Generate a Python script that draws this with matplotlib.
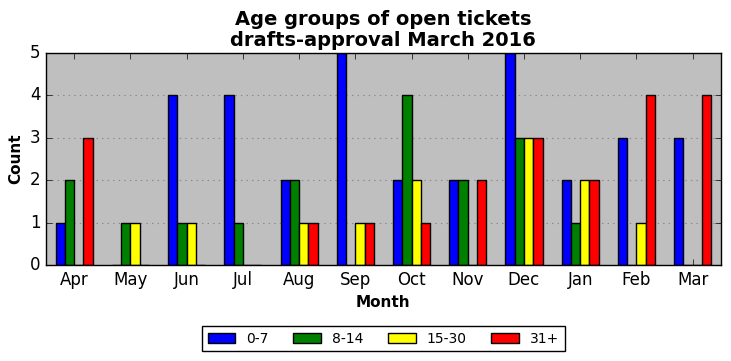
import numpy as np
import matplotlib
matplotlib.use("Agg")
import matplotlib.pyplot as plt

# ============================================================
# DATA
# ============================================================

months = ["Apr", "May", "Jun", "Jul", "Aug", "Sep",
          "Oct", "Nov", "Dec", "Jan", "Feb", "Mar"]

age_0_7 = [1, 0, 4, 4, 2, 5, 2, 2, 5, 2, 3, 3]
age_8_14 = [2, 1, 1, 1, 2, 0, 4, 2, 3, 1, 0, 0]
age_15_30 = [0, 1, 1, 0, 1, 1, 2, 0, 3, 2, 1, 0]
age_31_plus = [3, 0, 0, 0, 1, 1, 1, 2, 3, 2, 4, 4]

series_labels = ["0-7", "8-14", "15-30", "31+"]
series_colors = ["blue", "green", "yellow", "red"]

# ============================================================
# PLOT
# ============================================================

plt.style.use("classic")

fig = plt.figure(figsize=(7.31, 3.61), dpi=100, facecolor="white")
ax = fig.add_axes([0.063, 0.266, 0.923, 0.587])
ax.set_facecolor("#bfbfbf")

x = np.arange(len(months))
width = 0.165

all_series = [age_0_7, age_8_14, age_15_30, age_31_plus]

for i, values in enumerate(all_series):
    ax.bar(
        x + (i - 1.5) * width,
        values,
        width,
        color=series_colors[i],
        edgecolor="black",
        linewidth=1,
        label=series_labels[i],
        align="center",
    )

ax.set_xlim(-0.5, len(months) - 0.5)
ax.set_ylim(0, 5)
ax.set_xticks(x)
ax.set_xticklabels(months, fontsize=12)
ax.set_yticks(range(6))
ax.tick_params(axis="y", labelsize=12)

ax.yaxis.grid(True, linestyle=":", color="#888888", linewidth=0.8)
ax.xaxis.grid(False)
ax.set_axisbelow(True)

ax.set_xlabel("Month", fontsize=11, fontweight="bold")
ax.set_ylabel("Count", fontsize=11, fontweight="bold")

ax.set_title(
    "Age groups of open tickets\ndrafts-approval March 2016",
    fontsize=14,
    fontweight="bold",
    linespacing=1.15,
)

ax.legend(
    loc="upper center",
    bbox_to_anchor=(0.5, -0.255),
    ncol=4,
    fontsize=10,
    frameon=True,
    handlelength=2,
    columnspacing=1.75,
)

plt.savefig("out.png", dpi=100, facecolor="white")
plt.close()
